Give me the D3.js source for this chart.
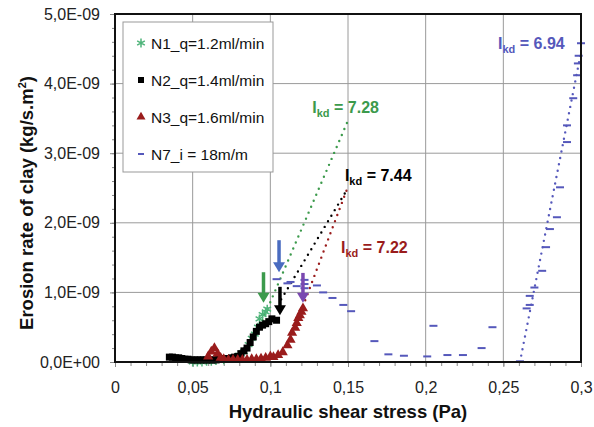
<!DOCTYPE html>
<html><head><meta charset="utf-8">
<script src="https://cdn.jsdelivr.net/npm/d3@7"></script>
<style>body{margin:0;background:#fff;} text{font-family:"Liberation Sans",Arial,sans-serif;}</style>
</head><body><svg id="c" width="594" height="427"></svg>
<script>
// ---- data (y in units of 1E-09 kg/s.m2) ----
const xTicks = [0, 0.05, 0.1, 0.15, 0.2, 0.25, 0.3];
const xTickLabels = ["0", "0,05", "0,1", "0,15", "0,2", "0,25", "0,3"];
const yTicks = [0, 1, 2, 3, 4, 5];
const yTickLabels = ["0,0E+00", "1,0E-09", "2,0E-09", "3,0E-09", "4,0E-09", "5,0E-09"];
const seriesNames = ["N1_q=1.2ml/min", "N2_q=1.4ml/min", "N3_q=1.6ml/min", "N7_i = 18m/m"];

const n1x = [0.05,0.053,0.056,0.059,0.062,0.065,0.07,0.075,0.08,0.083,0.086,0.088,0.09,0.092,0.093,0.095,0.097,0.098];
const n1y = [0.0,0.0,0.0,0.01,0.01,0.02,0.03,0.05,0.1,0.15,0.25,0.34,0.4,0.5,0.62,0.68,0.72,0.76];

const n2x = [0.035,0.037,0.039,0.041,0.043,0.045,0.047,0.049,0.051,0.053,0.055,0.057,0.059,0.061,0.063,0.065,0.067,0.069,0.071,0.073,0.075,0.077,0.079,0.081,0.083,0.085,0.087,0.089,0.091,0.093,0.095,0.097,0.099,0.101,0.104];
const n2y = [0.07,0.07,0.06,0.06,0.05,0.04,0.04,0.03,0.03,0.03,0.03,0.03,0.03,0.03,0.03,0.03,0.04,0.04,0.05,0.05,0.06,0.07,0.08,0.12,0.16,0.2,0.28,0.36,0.44,0.5,0.53,0.55,0.58,0.62,0.6];

const n3x = [0.06,0.062,0.064,0.066,0.068,0.07,0.073,0.076,0.079,0.082,0.085,0.088,0.091,0.094,0.097,0.1,0.102,0.105,0.108,0.111,0.113,0.114,0.116,0.117,0.118,0.119,0.12,0.121];
const n3y = [0.08,0.15,0.2,0.12,0.06,0.04,0.03,0.03,0.03,0.03,0.03,0.04,0.04,0.05,0.06,0.08,0.07,0.1,0.14,0.24,0.32,0.42,0.49,0.56,0.63,0.67,0.72,0.77];

const n7x = [0.104,0.111,0.113,0.117,0.122,0.122,0.122,0.130,0.134,0.140,0.147,0.152,0.167,0.176,0.186,0.201,0.205,0.214,0.224,0.236,0.243,0.2607,0.265,0.267,0.267,0.270,0.275,0.2775,0.280,0.2845,0.2865,0.291,0.291,0.295,0.2975,0.298,0.2985,0.300];
const n7y = [1.19,1.13,1.15,1.09,1.18,1.12,1.06,1.10,1.0,0.92,0.82,0.73,0.30,0.11,0.09,0.08,0.52,0.10,0.10,0.20,0.50,0.01,0.77,0.82,0.95,1.07,1.31,1.65,1.91,2.08,2.51,3.16,3.40,3.79,4.12,4.29,4.40,4.58];

// fitted lines [x0, y0, x1, y1]
const fitN1 = [0.095, 0.6, 0.15, 3.47];
const fitN2 = [0.107, 0.9, 0.15, 2.5];
const fitN3 = [0.121, 0.8, 0.15, 2.52];
const fitN7 = [0.2607, 0.0, 0.3, 4.45];

// arrows [x, yStart, yEnd]
const arrowGreen = [0.0956, 1.29, 0.85];
const arrowBlue = [0.1056, 1.75, 1.29];
const arrowBlack = [0.1062, 1.08, 0.67];
const arrowPurple = [0.121, 1.28, 0.85];

// labels: value, x, y(baseline)
const ikdValues = ["7.28", "7.44", "7.22", "6.94"];
const ikdX = [0.127, 0.148, 0.1455, 0.2466];
const ikdY = [3.58, 2.6, 1.57, 4.5];

// ---- drawing ----
const L = 115, R = 581, T = 14, B = 362;
const svg = d3.select("#c");
const x = d3.scaleLinear().domain([0, 0.3]).range([L, R]);
const y = d3.scaleLinear().domain([0, 5]).range([B, T]);

const cGreenMk = "#4fb47a", cGreen = "#3c9a4c", cBlack = "#000", cRed = "#9a1c1c", cBlue = "#5558bb", cPurple = "#7a48b0", cBlueArrow = "#4a6cc0";

// grid
const g = svg.append("g");
g.selectAll(".vg").data(xTicks.slice(1, -1)).enter().append("line")
  .attr("x1", d => x(d)).attr("x2", d => x(d)).attr("y1", T).attr("y2", B)
  .attr("stroke", "#9a9a9a").attr("stroke-width", 1);
g.selectAll(".hg").data(yTicks.slice(1, -1)).enter().append("line")
  .attr("y1", d => y(d)).attr("y2", d => y(d)).attr("x1", L).attr("x2", R)
  .attr("stroke", "#9a9a9a").attr("stroke-width", 1);

// axes
const xAxis = d3.axisBottom(x).tickValues(d3.range(0, 0.3001, 0.01)).tickSize(4)
  .tickFormat(() => "");
svg.append("g").attr("transform", `translate(0,${B})`).call(xAxis)
  .call(s => s.select(".domain").remove())
  .call(s => s.selectAll("line").attr("stroke", "#888"));
const xLab = d3.axisBottom(x).tickValues(xTicks).tickSize(5).tickPadding(15)
  .tickFormat((d, i) => xTickLabels[i]);
svg.append("g").attr("transform", `translate(0,${B})`).call(xLab)
  .call(s => s.select(".domain").remove())
  .call(s => s.selectAll("line").attr("stroke", "#888"))
  .call(s => s.selectAll("text").attr("font-size", 16).attr("fill", "#222")
    .style("font-family", "'Liberation Sans',Arial,sans-serif"));

const yAxis = d3.axisLeft(y).tickValues(d3.range(0, 5.001, 0.2)).tickSize(3).tickFormat(() => "");
svg.append("g").attr("transform", `translate(${L},0)`).call(yAxis)
  .call(s => s.select(".domain").remove())
  .call(s => s.selectAll("line").attr("stroke", "#888"));
const yLab = d3.axisLeft(y).tickValues(yTicks).tickSize(5).tickPadding(10)
  .tickFormat((d, i) => yTickLabels[i]);
svg.append("g").attr("transform", `translate(${L},0)`).call(yLab)
  .call(s => s.select(".domain").remove())
  .call(s => s.selectAll("line").attr("stroke", "#888"))
  .call(s => s.selectAll("text").attr("font-size", 16).attr("fill", "#222")
    .style("font-family", "'Liberation Sans',Arial,sans-serif"));

// fits (dotted)
function fit(f, col) {
  svg.append("line").attr("x1", x(f[0])).attr("y1", y(f[1])).attr("x2", x(f[2])).attr("y2", y(f[3]))
    .attr("stroke", col).attr("stroke-width", 2.4).attr("stroke-linecap", "round")
    .attr("stroke-dasharray", "0,6.5");
}
fit(fitN1, cGreen); fit(fitN2, cBlack); fit(fitN3, cRed); fit(fitN7, cBlue);

// N7 dashes
const n7 = n7x.map((v, i) => [v, n7y[i]]);
svg.selectAll(".n7").data(n7).enter().append("line")
  .attr("x1", d => x(d[0]) - 4).attr("x2", d => x(d[0]) + 4)
  .attr("y1", d => y(d[1])).attr("y2", d => y(d[1]))
  .attr("stroke", cBlue).attr("stroke-width", 2);

// N1 asterisks
const n1 = n1x.map((v, i) => [v, n1y[i]]);
const star = d3.symbol().type(d3.symbolAsterisk).size(55);
svg.selectAll(".n1").data(n1).enter().append("path")
  .attr("d", star).attr("transform", d => `translate(${x(d[0])},${y(d[1])})`)
  .attr("fill", "none").attr("stroke", cGreenMk).attr("stroke-width", 1.5);

// N2 squares
const n2 = n2x.map((v, i) => [v, n2y[i]]);
svg.selectAll(".n2").data(n2).enter().append("rect")
  .attr("x", d => x(d[0]) - 3.5).attr("y", d => y(d[1]) - 3.5)
  .attr("width", 7).attr("height", 7).attr("fill", cBlack);

// N3 triangles
const n3 = n3x.map((v, i) => [v, n3y[i]]);
const tri = d3.symbol().type(d3.symbolTriangle).size(45);
svg.selectAll(".n3").data(n3).enter().append("path")
  .attr("d", tri).attr("transform", d => `translate(${x(d[0])},${y(d[1])})`)
  .attr("fill", cRed);

// arrows
function arrow(a, col) {
  const x0 = x(a[0]), y0 = y(a[1]), y1 = y(a[2]);
  svg.append("line").attr("x1", x0).attr("x2", x0).attr("y1", y0).attr("y2", y1 - 9)
    .attr("stroke", col).attr("stroke-width", 3.5);
  svg.append("path").attr("d", `M${x0 - 6},${y1 - 10} L${x0 + 6},${y1 - 10} L${x0},${y1} Z`).attr("fill", col);
}
arrow(arrowGreen, cGreen); arrow(arrowBlue, cBlueArrow); arrow(arrowBlack, cBlack); arrow(arrowPurple, cPurple);

// Ikd labels
const ikdCols = [cGreen, cBlack, cRed, cBlue];
ikdValues.forEach((v, i) => {
  const t = svg.append("text").attr("x", x(ikdX[i])).attr("y", y(ikdY[i]))
    .attr("font-size", 16).attr("font-weight", "bold").attr("fill", ikdCols[i]);
  t.append("tspan").text("I");
  t.append("tspan").attr("font-size", 11).attr("dy", 4).text("kd");
  t.append("tspan").attr("dy", -4).text(" = " + v);
});

// frame
svg.append("rect").attr("x", L).attr("y", T).attr("width", R - L).attr("height", B - T)
  .attr("fill", "none").attr("stroke", "#111").attr("stroke-width", 2);

// legend
const lg = svg.append("g");
lg.append("rect").attr("x", 123).attr("y", 22).attr("width", 150).attr("height", 150)
  .attr("fill", "#fff").attr("stroke", "#999").attr("stroke-width", 1);
const lgY = [43, 80, 117, 154];
seriesNames.forEach((nm, i) => {
  const cy = lgY[i], cx = 141;
  if (i === 0) lg.append("path").attr("d", star).attr("transform", `translate(${cx},${cy})`)
    .attr("fill", "none").attr("stroke", cGreenMk).attr("stroke-width", 1.5);
  if (i === 1) lg.append("rect").attr("x", cx - 3).attr("y", cy - 3).attr("width", 6).attr("height", 6).attr("fill", cBlack);
  if (i === 2) lg.append("path").attr("d", d3.symbol().type(d3.symbolTriangle).size(35)).attr("transform", `translate(${cx},${cy})`).attr("fill", cRed);
  if (i === 3) lg.append("line").attr("x1", cx - 3).attr("x2", cx + 3).attr("y1", cy).attr("y2", cy).attr("stroke", cBlue).attr("stroke-width", 2);
  lg.append("text").attr("x", 151).attr("y", cy + 5.5).attr("font-size", 15.5).attr("fill", "#111").text(nm);
});

// axis titles
svg.append("text").attr("x", (L + R) / 2).attr("y", 418).attr("text-anchor", "middle")
  .attr("font-size", 18.5).attr("font-weight", "bold").attr("fill", "#111").text("Hydraulic shear stress (Pa)");
const yt = svg.append("text").attr("transform", `translate(33,${(T + B) / 2 + 15}) rotate(-90)`)
  .attr("text-anchor", "middle").attr("font-size", 18.5).attr("font-weight", "bold").attr("fill", "#111");
yt.append("tspan").text("Erosion rate of clay (kg/s.m");
yt.append("tspan").attr("font-size", 11).attr("dy", -7).text("2");
yt.append("tspan").attr("dy", 7).text(")");
</script></body></html>
